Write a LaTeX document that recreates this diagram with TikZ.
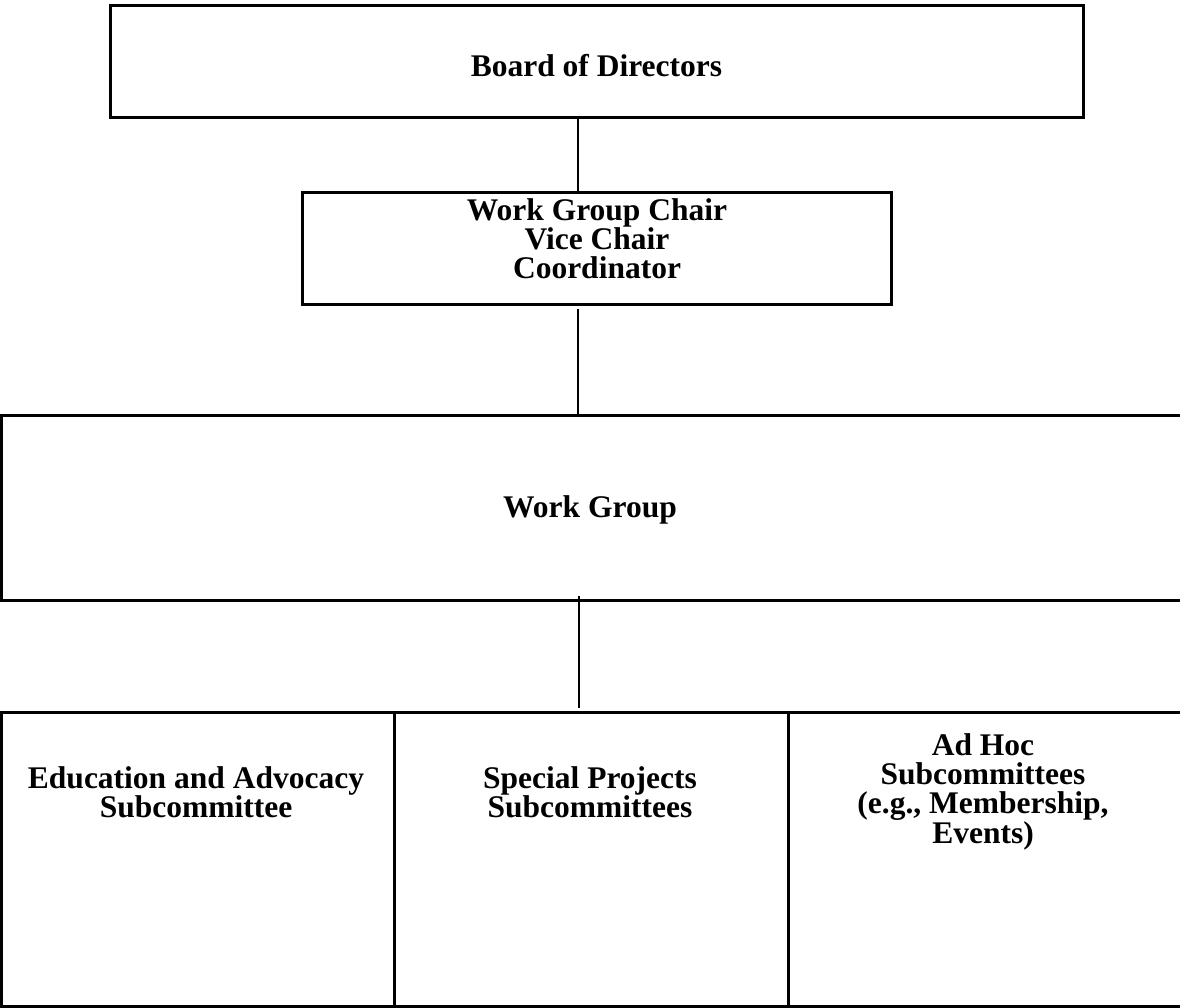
\documentclass[tikz,border=0pt]{standalone}
\usepackage{fontspec}
\setmainfont{Liberation Serif}
\begin{document}
\begin{tikzpicture}[x=1pt,y=-1pt,
  box/.style={draw=black,line width=3pt,inner sep=0pt},
  lbl/.style={align=center,font=\fontsize{31.5}{28.8}\selectfont\bfseries,inner sep=0pt},
  thinlink/.style={line width=1.6pt},
  thicklink/.style={line width=2.8pt}]
\useasboundingbox[fill=white] (0,0) rectangle (1180,1007);
% boxes
\node[box,minimum width=973pt,minimum height=112pt] (board) at (596.5,61) {};
\node[box,minimum width=589pt,minimum height=112pt] (chair) at (596.5,248) {};
\node[box,minimum width=1200pt,minimum height=185pt] (wg) at (601.5,507.5) {};
\node[box,minimum width=393pt,minimum height=294pt] (edu) at (197.5,859) {};
\node[box,minimum width=394pt,minimum height=294pt] (spec) at (591,859) {};
\node[box,minimum width=410pt,minimum height=294pt] (adhoc) at (993,859) {};
% texts
\node[lbl] (tboard) at (596.5,66) {Board of Directors};
\node[lbl] (tchair) at (597,239) {Work Group Chair\\Vice Chair\\Coordinator};
\node[lbl] (twg) at (590,510) {Work Group};
\node[lbl] (tedu) at (196,792) {Education and Advocacy\\Subcommittee};
\node[lbl] (tspec) at (590,792) {Special Projects\\Subcommittees};
\node[lbl] (tadhoc) at (983,792) {Ad Hoc\\Subcommittees\\(e.g., Membership,\\Events)};
% connectors
\coordinate (c1a) at (578,117);
\coordinate (c1b) at (578,192);
\coordinate (c2a) at (578,309);
\coordinate (c2b) at (578,415);
\coordinate (c3a) at (579,596);
\coordinate (c3b) at (579,708);
\draw[thinlink] (c1a) -- (c1b);
\draw[thinlink] (c2a) -- (c2b);
\draw[thicklink] (c3a) -- (c3b);
\end{tikzpicture}
\end{document}
